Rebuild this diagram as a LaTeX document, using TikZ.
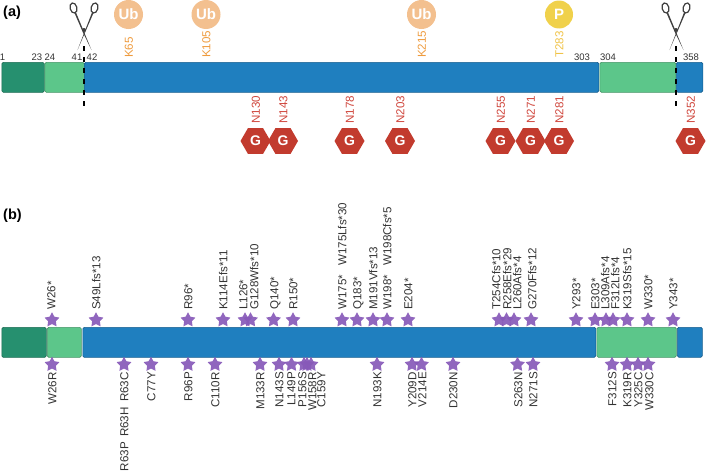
\documentclass[tikz,border=0pt]{standalone}
\usepackage{fontspec}
\setmainfont{Liberation Sans}
\usepackage{xcolor}
\usetikzlibrary{positioning,shapes.geometric}

\definecolor{darkteal}{HTML}{26906F}
\definecolor{lightgreen}{HTML}{5CC68A}
\definecolor{barblue}{HTML}{1F7FBF}
\definecolor{ubfill}{HTML}{F3C08F}
\definecolor{ubtext}{HTML}{EE9B3E}
\definecolor{pfill}{HTML}{F0D14B}
\definecolor{ptext}{HTML}{F0C348}
\definecolor{glyred}{HTML}{C23B2E}
\definecolor{glytext}{HTML}{CF463C}
\definecolor{starpurple}{HTML}{8759B8}
\definecolor{textgray}{HTML}{333333}

\begin{document}
\begin{tikzpicture}[
  x=1pt, y=-1pt,
  domainbox/.style={draw=#1!75!black, fill=#1, rounded corners=1.5pt, line width=0.7pt,
    minimum height=30pt, inner sep=0pt, anchor=north west},
  resnum/.style={font=\fontsize{9.5}{10}\selectfont, text=textgray, inner sep=0pt},
  sitelabel/.style={font=\fontsize{11.6}{12}\selectfont, rotate=90, inner sep=0pt,
    text height=8.6pt, text depth=0pt},
  mutlabel/.style={sitelabel, text=textgray},
  ptmcircle/.style={circle, fill=#1, text=white, inner sep=0pt, minimum size=29pt,
    font=\fontsize{15}{15}\selectfont\bfseries},
  glyhex/.style={regular polygon, regular polygon sides=6, fill=glyred, text=white,
    inner sep=0pt, minimum size=30pt, font=\fontsize{14}{14}\selectfont\bfseries},
  mutstar/.style={star, star points=5, star point ratio=1.9, fill=starpurple,
    fill opacity=0.92, inner sep=0pt, minimum size=15.5pt},
  panel/.style={font=\fontsize{14.5}{15}\selectfont\bfseries, inner sep=0pt},
  cutline/.style={line width=2.4pt, dash pattern=on 4.5pt off 6.5pt},
  scissors/.pic={
    \draw[gray!50!black, line width=1.2pt, rotate around={15:(-10.5,-22)}] (-10.5,-22) ellipse (3.4 and 5.2);
    \draw[gray!50!black, line width=1.2pt, rotate around={-15:(10.5,-22)}] (10.5,-22) ellipse (3.4 and 5.2);
    \fill[gray!50!black] (-9.5,-17) -- (-8,-17.5) -- (7.5,20) -- (-1.5,1.5) -- cycle;
    \fill[gray!50!black] (9.5,-17) -- (8,-17.5) -- (-6.5,20) -- (1.5,1.5) -- cycle;
    \fill[gray!50!black] (0,0) circle (2);
  }
]
  \useasboundingbox (0,0) rectangle (708,471);

  % Panel letters
  \node[panel, anchor=west] (panelA) at (3,12.5) {(a)};
  \node[panel, anchor=west] (panelB) at (3,215.5) {(b)};

  % Domains, panel a
  \node[domainbox=darkteal, minimum width=42.5pt] (segA1) at (1.5,62) {};
  \node[domainbox=lightgreen, minimum width=39.5pt] (segA2) at (44.5,62) {};
  \node[domainbox=barblue, minimum width=514.5pt] (segA3) at (84,62) {};
  \node[domainbox=lightgreen, minimum width=76pt] (segA4) at (599.5,62) {};
  \node[domainbox=barblue, minimum width=26.5pt] (segA5) at (676,62) {};

  % Residue numbers
  \foreach \xpos/\txt [count=\i] in {2.5/1, 37/23, 50/24, 77/41, 92/42, 582/303, 608/304, 691/358}
    \node[resnum] (res\i) at (\xpos,57.5) {\txt};

  % Cleavage sites
  \foreach \xpos [count=\i] in {84,676} {
    \pic at (\xpos,30) {scissors};
    \coordinate (cutTop\i) at (\xpos,46);
    \coordinate (cutBot\i) at (\xpos,106);
    \draw[cutline] (cutTop\i) -- (cutBot\i);
  }

  % Ubiquitin and phospho sites
  \foreach \xpos/\txt [count=\i] in {128.5/K65, 206/K105, 421.5/K215} {
    \node[ptmcircle=ubfill] (ub\i) at (\xpos,14.5) {Ub};
    \node[sitelabel, anchor=west, text=ubtext] (ubLabel\i) at (\xpos,58) {\txt};
  }
  \node[ptmcircle=pfill, minimum size=28pt] (phos) at (559,14.5) {P};
  \node[sitelabel, anchor=west, text=ptext] (phosLabel) at (559,58) {T283};

  % Glycosylation sites
  \foreach \xpos/\txt [count=\i] in {255.5/N130, 283/N143, 349.5/N178, 400/N203,
      500.5/N255, 530.5/N271, 559/N281, 690.5/N352} {
    \node[glyhex] (gly\i) at (\xpos,141) {G};
    \node[sitelabel, anchor=west, text=glytext] (glyLabel\i) at (\xpos,124) {\txt};
  }

  % Domains, panel b
  \node[domainbox=darkteal, minimum width=44.5pt] (segB1) at (1.5,327) {};
  \node[domainbox=lightgreen, minimum width=34pt] (segB2) at (47,327) {};
  \node[domainbox=barblue, minimum width=513pt] (segB3) at (82.5,327) {};
  \node[domainbox=lightgreen, minimum width=79.5pt] (segB4) at (596.5,327) {};
  \node[domainbox=barblue, minimum width=25pt] (segB5) at (677,327) {};

  % Mutations above the bar
  \foreach \xstar/\xtxt/\txt [count=\i] in {52/51/W26*, 96/96/S49Lfs*13, 188/188/R96*, 223/223/K114Efs*11,
      245/243/L126*, 250.5/254/G128Wfs*10, 273.5/274/Q140*, 293/293/R150*, 342/342/W175*,
      357/357/Q183*, 373/373/M191Vfs*13, 387/387/W198*, 408/408/E204*, 499/496/T254Cfs*10,
      506.5/507/R258Efs*29, 514/517/L260Afs*4, 531/532/G270Ffs*12, 576/576/Y293*, 595/595/E303*,
      606/605/L309Afs*4, 613/615/F312Lfs*4, 627/627/K319Sfs*15, 648/648/W330*, 673/673/Y343* } {
    \node[mutstar] (topStar\i) at (\xstar,320) {};
    \node[mutlabel, anchor=west] (topLabel\i) at (\xtxt,310) {\txt};
  }
  \node[mutlabel, anchor=west] (topLabelA) at (342,266) {W175Lfs*30};
  \node[mutlabel, anchor=west] (topLabelB) at (387,266) {W198Cfs*5};

  % Mutations below the bar
  \foreach \xstar/\xtxt/\txt [count=\i] in {52/52/W26R, 124/124/R63C, 151/151/C77Y, 188/188/R96P, 215/215/C110R,
      260/260/M133R, 279/279/N143S, 291.5/291/L149P, 304/302/P156S, 307/312/W158R, 311/321/C159Y,
      377/377/N193K, 412/412/Y209D, 421.5/422/V214E, 453/453/D230N, 517.5/518/S263N, 533/533/N271S,
      612/612/F312S, 627/627/K319R, 638/638/Y325C, 648/649/W330C} {
    \node[mutstar] (botStar\i) at (\xstar,364.5) {};
    \node[mutlabel, anchor=east] (botLabel\i) at (\xtxt,372) {\txt};
  }
  \node[mutlabel, anchor=east] (botLabelA) at (124,407) {R63H};
  \node[mutlabel, anchor=east] (botLabelB) at (124,442) {R63P};
\end{tikzpicture}
\end{document}
